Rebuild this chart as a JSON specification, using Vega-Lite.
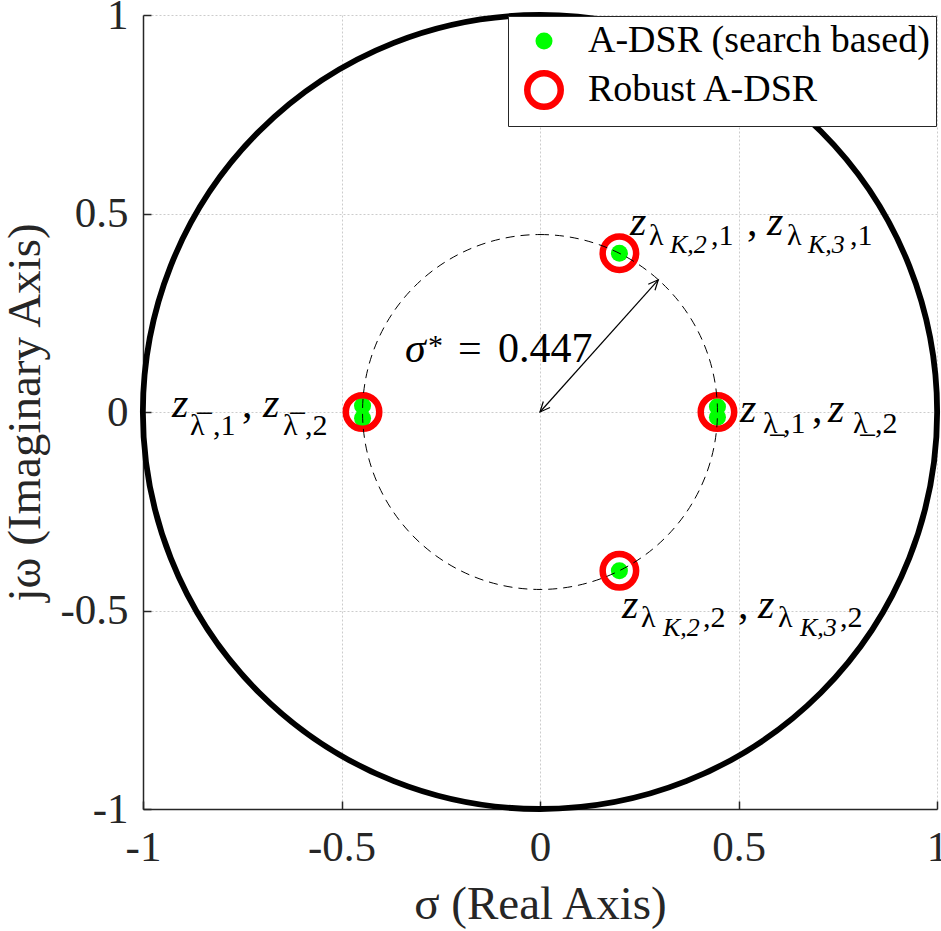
{
  "$schema": "https://vega.github.io/schema/vega-lite/v6.json",
  "width": 794,
  "height": 794,
  "autosize": {"type": "none"},
  "padding": {"left": 143, "top": 15, "right": 4, "bottom": 122},
  "background": "white",
  "config": {
    "view": {"stroke": null},
    "font": "'Liberation Serif', 'Times New Roman', 'DejaVu Serif', serif",
    "axis": {
      "domainColor": "#262626", "domainWidth": 1.5,
      "tickColor": "#262626", "tickWidth": 1.5, "tickSize": -8,
      "labelFont": "'Liberation Serif', 'Times New Roman', 'DejaVu Serif', serif", "labelFontSize": 43, "labelColor": "#262626",
      "titleFont": "'Liberation Serif', 'Times New Roman', 'DejaVu Serif', serif", "titleFontSize": 47, "titleColor": "#262626", "titleFontWeight": "normal",
      "gridColor": "#cccccc", "gridDash": [2, 2], "gridWidth": 1
    },
    "legend": {
      "labelFont": "'Liberation Serif', 'Times New Roman', 'DejaVu Serif', serif",
      "orient": "top-right", "offset": 1,
      "labelFontSize": 38, "labelColor": "black", "labelLimit": 0,
      "strokeColor": "#262626", "fillColor": "white", "padding": 6,
      "symbolType": "circle", "rowPadding": 0, "labelOffset": 24, "symbolOffset": 10,
      "symbolOpacity": 1
    }
  },
  "datasets": {
    "circles": [{"r": 1, "kind": "unit"}, {"r": 0.447, "kind": "sigma"}],
    "points": [
      {"x": -0.447, "y": 0.016, "series": "A-DSR (search based)"},
      {"x": -0.447, "y": -0.016, "series": "A-DSR (search based)"},
      {"x": 0.447, "y": 0.013, "series": "A-DSR (search based)"},
      {"x": 0.447, "y": -0.013, "series": "A-DSR (search based)"},
      {"x": 0.2, "y": 0.4, "series": "A-DSR (search based)"},
      {"x": 0.2, "y": -0.4, "series": "A-DSR (search based)"},
      {"x": -0.447, "y": 0, "series": "Robust A-DSR"},
      {"x": 0.447, "y": 0, "series": "Robust A-DSR"},
      {"x": 0.2, "y": 0.4, "series": "Robust A-DSR"},
      {"x": 0.2, "y": -0.4, "series": "Robust A-DSR"}
    ],
    "arrow": [{"x": 0, "y": 0, "x2": 0.298, "y2": 0.333}],
    "labels": [
      {"x": 0.2267, "y": 0.4458, "text": "z", "level": "main"},
      {"x": 0.5214, "y": 0.4458, "text": ",", "level": "mainr"},
      {"x": 0.5718, "y": 0.4458, "text": "z", "level": "main"},
      {"x": 0.2746, "y": 0.4207, "text": "λ", "level": "sub"},
      {"x": 0.4307, "y": 0.4207, "text": ",1", "level": "sub"},
      {"x": 0.6222, "y": 0.4207, "text": "λ", "level": "sub"},
      {"x": 0.7808, "y": 0.4207, "text": ",1", "level": "sub"},
      {"x": 0.3275, "y": 0.4005, "text": "K,2", "level": "subsub"},
      {"x": 0.6751, "y": 0.4005, "text": "K,3", "level": "subsub"},

      {"x": 0.2065, "y": -0.5189, "text": "z", "level": "main"},
      {"x": 0.4987, "y": -0.5189, "text": ",", "level": "mainr"},
      {"x": 0.5491, "y": -0.5189, "text": "z", "level": "main"},
      {"x": 0.2544, "y": -0.5416, "text": "λ", "level": "sub"},
      {"x": 0.4106, "y": -0.5416, "text": ",2", "level": "sub"},
      {"x": 0.5995, "y": -0.5416, "text": "λ", "level": "sub"},
      {"x": 0.7557, "y": -0.5416, "text": ",2", "level": "sub"},
      {"x": 0.3098, "y": -0.5642, "text": "K,2", "level": "subsub"},
      {"x": 0.6549, "y": -0.5642, "text": "K,3", "level": "subsub"},

      {"x": -0.927, "y": -0.0126, "text": "z", "level": "main"},
      {"x": -0.7506, "y": -0.0126, "text": ",", "level": "mainr"},
      {"x": -0.6977, "y": -0.0126, "text": "z", "level": "main"},
      {"x": -0.8816, "y": -0.0579, "text": "λ̅", "level": "sub"},
      {"x": -0.8237, "y": -0.0579, "text": ",1", "level": "sub"},
      {"x": -0.6474, "y": -0.0579, "text": "λ̅", "level": "sub"},
      {"x": -0.5919, "y": -0.0579, "text": ",2", "level": "sub"},

      {"x": 0.5038, "y": -0.0252, "text": "z", "level": "main"},
      {"x": 0.6851, "y": -0.0252, "text": ",", "level": "mainr"},
      {"x": 0.7254, "y": -0.0252, "text": "z", "level": "main"},
      {"x": 0.5617, "y": -0.0529, "text": "λ̲", "level": "sub"},
      {"x": 0.6121, "y": -0.0529, "text": ",1", "level": "sub"},
      {"x": 0.7884, "y": -0.0529, "text": "λ̲", "level": "sub"},
      {"x": 0.8438, "y": -0.0529, "text": ",2", "level": "sub"},

      {"x": -0.3401, "y": 0.1259, "text": "σ", "level": "main"},
      {"x": -0.2821, "y": 0.1436, "text": "*", "level": "sub"},
      {"x": -0.2065, "y": 0.1259, "text": "=", "level": "mainr"},
      {"x": -0.1058, "y": 0.1259, "text": "0.447", "level": "mainr"}
    ]
  },
  "layer": [
    {
      "data": {"name": "points"},
      "mark": {"type": "point", "opacity": 0},
      "encoding": {
        "x": {"field": "x", "type": "quantitative", "scale": {"domain": [-1, 1], "nice": false, "zero": false},
          "axis": {"title": "σ (Real Axis)", "values": [-1, -0.5, 0, 0.5, 1], "labelExpr": "(datum.value < 0 ? '-' : '') + abs(datum.value)", "labelPadding": 25, "titlePadding": 12, "labelFlush": false}},
        "y": {"field": "y", "type": "quantitative", "scale": {"domain": [-1, 1], "nice": false, "zero": false},
          "axis": {"title": "jω (Imaginary Axis)", "values": [-1, -0.5, 0, 0.5, 1], "labelExpr": "(datum.value < 0 ? '-' : '') + abs(datum.value)", "labelPadding": 23, "titlePadding": 10, "labelFlush": false}}
      }
    },
    {
      "data": {"name": "circles"},
      "transform": [{"filter": "datum.kind === 'unit'"}],
      "mark": {"type": "arc", "theta": 0, "theta2": 6.2832, "filled": false, "stroke": "black", "strokeWidth": 5.8, "fill": null},
      "encoding": {
        "radius": {"field": "r", "type": "quantitative", "scale": {"type": "linear", "domain": [0, 1], "range": [0, 397], "zero": true}}
      }
    },
    {
      "data": {"name": "points"},
      "transform": [{"filter": "datum.series !== 'Robust A-DSR'"}],
      "mark": {"type": "point", "filled": true, "opacity": 1},
      "encoding": {
        "x": {"field": "x", "type": "quantitative"},
        "y": {"field": "y", "type": "quantitative"},
        "fill": {"field": "series", "type": "nominal", "title": null,
          "scale": {"domain": ["A-DSR (search based)", "Robust A-DSR"], "range": ["#00ff00", "white"]}},
        "size": {"field": "series", "type": "ordinal", "title": null,
          "scale": {"domain": ["A-DSR (search based)", "Robust A-DSR"], "range": [290, 1120]}}
      }
    },
    {
      "data": {"name": "points"},
      "transform": [{"filter": "datum.series === 'Robust A-DSR'"}],
      "mark": {"type": "point", "filled": false, "opacity": 1},
      "encoding": {
        "x": {"field": "x", "type": "quantitative"},
        "y": {"field": "y", "type": "quantitative"},
        "stroke": {"field": "series", "type": "nominal", "title": null,
          "scale": {"domain": ["A-DSR (search based)", "Robust A-DSR"], "range": ["#00ff00", "#ff0000"]}},
        "size": {"field": "series", "type": "ordinal", "title": null},
        "strokeWidth": {"field": "series", "type": "ordinal", "title": null,
          "scale": {"domain": ["A-DSR (search based)", "Robust A-DSR"], "range": [0, 6.5]}}
      }
    },
    {
      "data": {"name": "circles"},
      "transform": [{"filter": "datum.kind === 'sigma'"}],
      "mark": {"type": "arc", "theta": 0, "theta2": 6.2832, "filled": false, "stroke": "black", "strokeWidth": 1, "strokeDash": [9, 6], "fill": null},
      "encoding": {
        "radius": {"field": "r", "type": "quantitative"}
      }
    },
    {
      "data": {"name": "arrow"},
      "mark": {"type": "rule", "color": "black", "strokeWidth": 1.2},
      "encoding": {
        "x": {"field": "x", "type": "quantitative"},
        "y": {"field": "y", "type": "quantitative"},
        "x2": {"field": "x2"},
        "y2": {"field": "y2"}
      }
    },
    {
      "data": {"name": "arrow"},
      "mark": {"type": "point", "shape": "M-0.45,1L0,0L0.45,1", "filled": false, "stroke": "black", "strokeWidth": 1.2, "size": 400, "angle": 41.8, "opacity": 1},
      "encoding": {
        "x": {"field": "x2", "type": "quantitative"},
        "y": {"field": "y2", "type": "quantitative"}
      }
    },
    {
      "data": {"name": "arrow"},
      "mark": {"type": "point", "shape": "M-0.45,1L0,0L0.45,1", "filled": false, "stroke": "black", "strokeWidth": 1.2, "size": 400, "angle": 221.8, "opacity": 1},
      "encoding": {
        "x": {"field": "x", "type": "quantitative"},
        "y": {"field": "y", "type": "quantitative"}
      }
    },
    {
      "data": {"name": "labels"},
      "transform": [{"filter": "datum.level === 'main'"}],
      "mark": {"type": "text", "align": "left", "baseline": "alphabetic", "fontSize": 42, "fontStyle": "italic", "color": "black"},
      "encoding": {
        "x": {"field": "x", "type": "quantitative"},
        "y": {"field": "y", "type": "quantitative"},
        "text": {"field": "text"}
      }
    },
    {
      "data": {"name": "labels"},
      "transform": [{"filter": "datum.level === 'mainr'"}],
      "mark": {"type": "text", "align": "left", "baseline": "alphabetic", "fontSize": 42, "color": "black"},
      "encoding": {
        "x": {"field": "x", "type": "quantitative"},
        "y": {"field": "y", "type": "quantitative"},
        "text": {"field": "text"}
      }
    },
    {
      "data": {"name": "labels"},
      "transform": [{"filter": "datum.level === 'sub'"}],
      "mark": {"type": "text", "align": "left", "baseline": "alphabetic", "fontSize": 30, "color": "black"},
      "encoding": {
        "x": {"field": "x", "type": "quantitative"},
        "y": {"field": "y", "type": "quantitative"},
        "text": {"field": "text"}
      }
    },
    {
      "data": {"name": "labels"},
      "transform": [{"filter": "datum.level === 'subsub'"}],
      "mark": {"type": "text", "align": "left", "baseline": "alphabetic", "fontSize": 26, "fontStyle": "italic", "color": "black"},
      "encoding": {
        "x": {"field": "x", "type": "quantitative"},
        "y": {"field": "y", "type": "quantitative"},
        "text": {"field": "text"}
      }
    }
  ]
}
